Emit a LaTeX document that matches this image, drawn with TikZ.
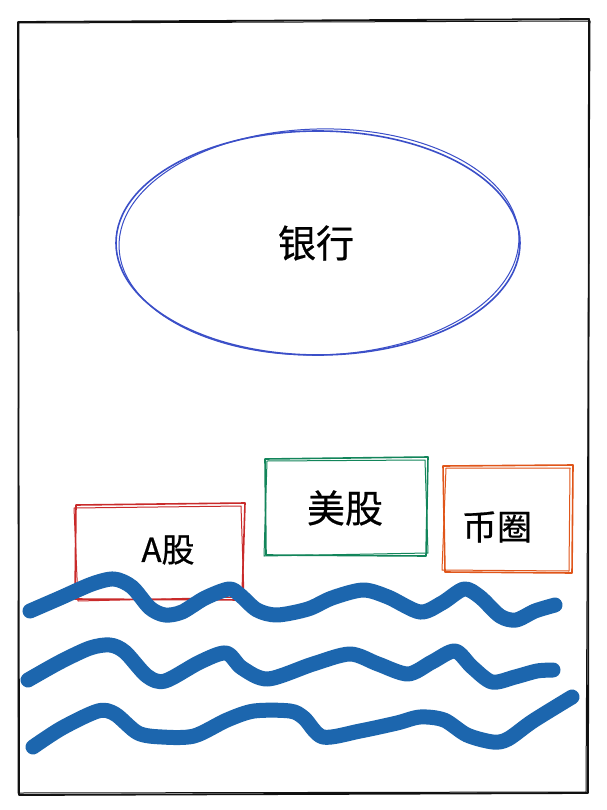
\documentclass[tikz,border=0pt]{standalone}
\usepackage{fontspec}
\newfontfamily\cjk[FakeBold=0.6]{Noto Sans CJK SC}
\definecolor{frameblk}{HTML}{111111}
\definecolor{bankblue}{HTML}{3B4FC8}
\definecolor{ared}{HTML}{C92A2A}
\definecolor{usgreen}{HTML}{12855A}
\definecolor{coinorange}{HTML}{E0561A}
\definecolor{wave}{HTML}{1C66AE}
\tikzset{
  frameline/.style={draw=frameblk, line width=1.8pt, line join=round},
  sketch/.style={line width=1.6pt, line join=round},
  sketchthin/.style={line width=1pt, line join=round},
  label/.style={font=\cjk, text=black, inner sep=0pt},
  waveline/.style={draw=wave, line width=15pt, line cap=round, line join=round},
}
\begin{document}
\begin{tikzpicture}[x=1pt,y=-1pt]
\useasboundingbox (0,0) rectangle (606,810);
\fill[white] (0,0) rectangle (606,810);
% frame
\draw[frameline] (18,22) -- (589,19) -- (588,793) -- (19,795) -- cycle;
\draw[frameline, line width=1pt] (19,23) -- (590,21) -- (586,792) -- (18,793) -- cycle;
% bank ellipse
\node[label, font=\cjk\fontsize{38}{42}\selectfont] (bank) at (316,243) {银行};
\draw[bankblue, line width=1.6pt] (318,243) ellipse [x radius=202, y radius=112];
\draw[bankblue, line width=1pt, rotate around={1.5:(318,243)}] (319,242) ellipse [x radius=200, y radius=113];
% A-share box
\node[label, font=\cjk\fontsize{33}{37}\selectfont] (ashare) at (168,550) {A股};
\draw[ared, sketch] (76,505) -- (245,503) -- (242,600) -- (75,599) -- cycle;
\draw[ared, sketchthin] (74,508) -- (241,506) -- (244,597) -- (78,601) -- cycle;
% US stock box
\node[label, font=\cjk\fontsize{38}{42}\selectfont] (usstock) at (345,508) {美股};
\draw[usgreen, sketch] (265,459) -- (428,457) -- (426,556) -- (266,555) -- cycle;
\draw[usgreen, sketchthin] (267,461) -- (425,460) -- (428,553) -- (264,556) -- cycle;
% coin box
\node[label, font=\cjk\fontsize{35}{39}\selectfont] (coin) at (497,527) {币圈};
\draw[coinorange, sketch] (443,466) -- (573,465) -- (572,573) -- (445,572) -- cycle;
\draw[coinorange, sketchthin] (446,468) -- (570,468) -- (569,571) -- (442,570) -- cycle;
% waves
\draw[waveline] plot[smooth, tension=0.5] coordinates {
 (30,611) (60,598) (92,584) (114,579) (132,587) (150,608) (165,615) (182,612)
 (205,598) (229,589) (240,595) (257,610) (277,615) (308,609) (332,598)
 (363,590) (388,597) (420,612) (442,603) (464,589) (480,597) (500,616)
 (516,620) (535,611) (555,605)};
\draw[waveline] plot[smooth, tension=0.5] coordinates {
 (28,680) (60,662) (90,648) (110,645) (125,652) (147,676) (165,681)
 (200,662) (226,653) (242,668) (268,679) (313,664) (350,654) (378,664)
 (408,674) (432,662) (455,651) (472,667) (492,682) (515,677) (537,671) (553,670)};
\draw[waveline] plot[smooth, tension=0.5] coordinates {
 (33,747) (62,728) (98,711) (115,714) (138,733) (162,737) (194,736)
 (227,720) (254,711) (290,711) (304,718) (323,737) (360,731) (397,723)
 (420,717) (444,720) (467,735) (493,742) (508,739) (533,721) (572,697)};
\end{tikzpicture}
\end{document}
